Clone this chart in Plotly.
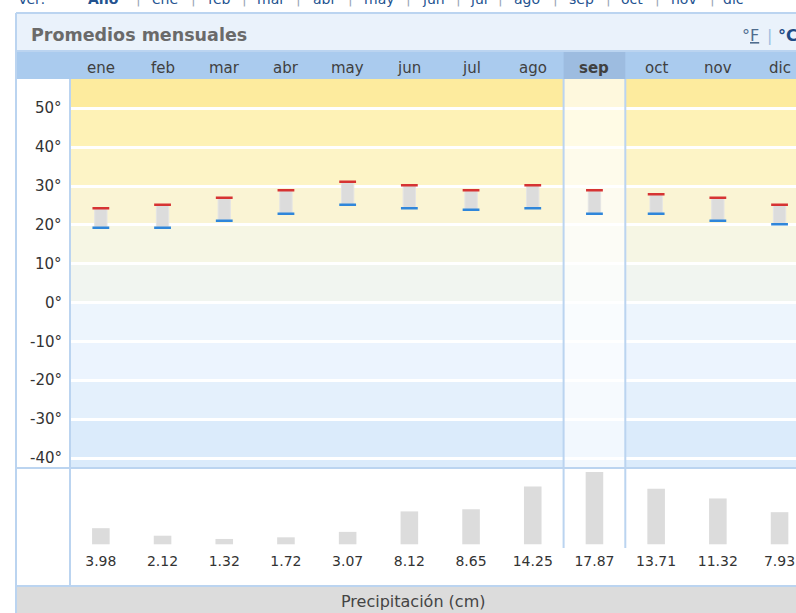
import plotly.graph_objects as go

# ---------------- data ----------------
months = ["ene", "feb", "mar", "abr", "may", "jun", "jul", "ago", "sep", "oct", "nov", "dic"]
temp_high = [24.3, 25.2, 27.0, 28.9, 31.1, 30.2, 28.9, 30.2, 28.9, 27.9, 27.0, 25.2]
temp_low = [19.3, 19.3, 21.1, 22.9, 25.2, 24.3, 23.9, 24.3, 22.9, 22.9, 21.1, 20.2]
precip = [3.98, 2.12, 1.32, 1.72, 3.07, 8.12, 8.65, 14.25, 17.87, 13.71, 11.32, 7.93]
temp_ticks = [50, 40, 30, 20, 10, 0, -10, -20, -30, -40]
selected_month = "sep"
title_text = "Promedios mensuales"
footer_text = "Precipitación (cm)"
nav_labels = ["Ver:", "Año", "ene", "feb", "mar", "abr", "may", "jun", "jul", "ago", "sep", "oct", "nov", "dic"]

# ---------------- layout constants (pixels) ----------------
W, H = 796, 613
FONT = "DejaVu Sans"
PLOT_L = 70
COL_W = 61.7
T_TOP, T_BOT = 79, 467.5
Y50, PPD = 108.3, 3.8875          # pixel of 50 deg, pixels per degree
P_TOP, P_BOT = 468, 585
P_BASE, PPC = 544.3, 4.05         # baseline pixel, pixels per cm
LABEL_PX = 562
BORDER = "#BBD4F0"


def px(x):
    return x / W


def py(y):
    return 1 - y / H


t_range = [50 - (T_BOT - Y50) / PPD, 50 + (Y50 - T_TOP) / PPD]
p_range = [-(P_BOT - P_BASE) / PPC, (P_BASE - P_TOP) / PPC]
x_range = [0, (W - PLOT_L) / COL_W]
xc = [i + 0.5 for i in range(len(months))]
sel = months.index(selected_month)

fig = go.Figure()

# temperature range bars
fig.add_trace(go.Bar(
    x=xc, y=[h - l for h, l in zip(temp_high, temp_low)], base=temp_low,
    width=0.2, marker=dict(color="#DCDCDC", line=dict(color="#E4E4E4", width=1)),
    xaxis="x", yaxis="y", hoverinfo="skip", showlegend=False))
fig.add_trace(go.Scatter(
    x=xc, y=temp_high, mode="markers",
    marker=dict(symbol="line-ew", size=12, line=dict(color="#D63333", width=2.5)),
    xaxis="x", yaxis="y", hoverinfo="skip", showlegend=False))
fig.add_trace(go.Scatter(
    x=xc, y=temp_low, mode="markers",
    marker=dict(symbol="line-ew", size=12, line=dict(color="#2F86DA", width=2.5)),
    xaxis="x", yaxis="y", hoverinfo="skip", showlegend=False))

# precipitation bars + labels
fig.add_trace(go.Bar(
    x=xc, y=precip, width=0.285, marker=dict(color="#DCDCDC", line=dict(width=0)),
    xaxis="x", yaxis="y2", hoverinfo="skip", showlegend=False))
fig.add_trace(go.Scatter(
    x=xc, y=[-(LABEL_PX - P_BASE) / PPC] * len(precip), mode="text",
    text=[f"{v:.2f}" for v in precip],
    textfont=dict(family=FONT, size=14, color="#333333"),
    xaxis="x", yaxis="y2", hoverinfo="skip", showlegend=False, cliponaxis=False))

shapes = []
# panel backgrounds
shapes.append(dict(type="rect", xref="paper", yref="paper", x0=px(16), x1=1, y0=py(51), y1=py(13),
                   fillcolor="#EAF2FB", line=dict(width=0), layer="below"))
shapes.append(dict(type="rect", xref="paper", yref="paper", x0=px(16), x1=1, y0=py(79), y1=py(51),
                   fillcolor="#AACBEE", line=dict(width=0), layer="below"))
shapes.append(dict(type="rect", xref="x", yref="paper", x0=sel, x1=sel + 1, y0=py(79), y1=py(52),
                   fillcolor="#9DBCE0", line=dict(width=0), layer="below"))
shapes.append(dict(type="rect", xref="paper", yref="paper", x0=px(16), x1=1, y0=0, y1=py(586),
                   fillcolor="#DCDCDC", line=dict(width=0), layer="below"))

# temperature bands
band_colors = ["#DBEBFB", "#E4F0FC", "#ECF4FE", "#EDF5FD", "#F1F5F0",
               "#F6F6E4", "#FAF4D4", "#FDF4C6", "#FEF2B6", "#FDEB9E"]
edges = [t_range[0]] + sorted(temp_ticks)[1:] + [t_range[1]]
for c, lo, hi in zip(band_colors, edges[:-1], edges[1:]):
    shapes.append(dict(type="rect", xref="x", yref="y", x0=0, x1=x_range[1], y0=lo, y1=hi,
                       fillcolor=c, line=dict(width=0), layer="below"))

# selected-month highlight
shapes.append(dict(type="rect", xref="x", yref="y", x0=sel, x1=sel + 1, y0=t_range[0], y1=t_range[1],
                   fillcolor="rgba(255,255,255,0.65)", line=dict(width=0), layer="between"))
for xv in (sel, sel + 1):
    shapes.append(dict(type="line", xref="x", yref="paper", x0=xv, x1=xv, y0=py(548), y1=py(79),
                       line=dict(color=BORDER, width=2), layer="above"))

# frame lines
frame = [
    (16, 13, 16, H), (16, 13, W, 13), (16, 51, W, 51),
    (PLOT_L, 79, PLOT_L, 586), (16, 468, W, 468), (16, 586, W, 586),
]
for x0, y0, x1, y1 in frame:
    shapes.append(dict(type="line", xref="paper", yref="paper", x0=px(x0), x1=px(x1), y0=py(y0), y1=py(y1),
                       line=dict(color=BORDER, width=2), layer="above"))

annotations = []
# title and unit switch
annotations.append(dict(text=f"<b>{title_text}</b>", xref="paper", yref="paper", x=px(29), y=py(35),
                        xanchor="left", yanchor="middle", showarrow=False,
                        font=dict(family=FONT, size=17.5, color="#6A6A6A")))
annotations.append(dict(text="°<u>F</u>", xref="paper", yref="paper", x=px(740), y=py(35),
                        xanchor="left", yanchor="middle", showarrow=False,
                        font=dict(family=FONT, size=16, color="#4F6C8E")))
annotations.append(dict(text="|", xref="paper", yref="paper", x=px(769), y=py(35),
                        xanchor="center", yanchor="middle", showarrow=False,
                        font=dict(family=FONT, size=16, color="#9DBCE0")))
annotations.append(dict(text="<b>°C</b>", xref="paper", yref="paper", x=px(776), y=py(35),
                        xanchor="left", yanchor="middle", showarrow=False,
                        font=dict(family=FONT, size=16, color="#1F4C86")))

# month header labels
for x, m in zip(xc, months):
    annotations.append(dict(text=f"<b>{m}</b>" if m == selected_month else m,
                            xref="x", yref="paper", x=x, y=py(68), xanchor="center", yanchor="middle",
                            showarrow=False, font=dict(family=FONT, size=15, color="#404040")))

# temperature axis labels
for t in temp_ticks:
    annotations.append(dict(text=f"{t}°", xref="paper", yref="y", x=px(64), y=t,
                            xanchor="right", yanchor="middle", showarrow=False,
                            font=dict(family=FONT, size=15, color="#333333")))

# footer
annotations.append(dict(text=footer_text, xref="paper", yref="paper", x=px(413), y=py(601),
                        xanchor="center", yanchor="middle", showarrow=False,
                        font=dict(family=FONT, size=16, color="#444444")))

# cropped navigation row at very top
nav_x = [31, 103, 165, 219, 271, 324, 379, 433, 479, 527, 581, 632, 684, 733]
sep_x = [138, 193, 245, 298, 350, 408, 458, 500, 555, 608, 657, 712]
for x, lab in zip(nav_x, nav_labels):
    annotations.append(dict(text=f"<b>{lab}</b>" if lab == "Año" else lab,
                            xref="paper", yref="paper", x=px(x), y=py(10), xanchor="center",
                            yanchor="bottom", yshift=1, showarrow=False,
                            font=dict(family=FONT, size=14, color="#23528F")))
for x in sep_x:
    annotations.append(dict(text="|", xref="paper", yref="paper", x=px(x), y=py(10), xanchor="center",
                            yanchor="bottom", yshift=1, showarrow=False,
                            font=dict(family=FONT, size=14, color="#9AA8B8")))

fig.update_layout(
    width=W, height=H, margin=dict(l=0, r=0, t=0, b=0),
    paper_bgcolor="white", plot_bgcolor="rgba(0,0,0,0)",
    barmode="overlay", showlegend=False,
    xaxis=dict(domain=[px(PLOT_L), 1], range=x_range, visible=False, fixedrange=True),
    yaxis=dict(domain=[py(T_BOT), py(T_TOP)], range=t_range, tickvals=temp_ticks,
               showticklabels=False, ticks="", showgrid=True, gridcolor="white", gridwidth=3,
               zeroline=False, showline=False, fixedrange=True),
    yaxis2=dict(domain=[py(P_BOT), py(P_TOP)], range=p_range, anchor="x", visible=False,
                fixedrange=True),
    shapes=shapes, annotations=annotations,
)

fig.write_html(
    "out.html",
    config={"displayModeBar": False},
    post_script="document.body.style.margin='0';document.body.style.overflow='hidden';",
)
